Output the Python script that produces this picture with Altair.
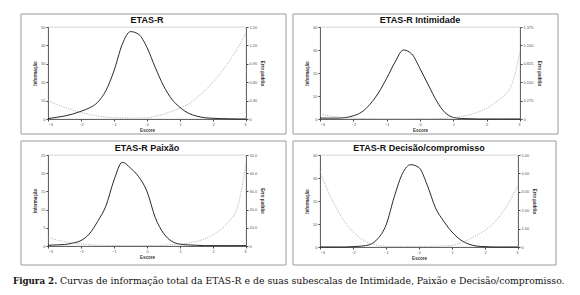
import altair as alt
import pandas as pd

theta = [-3.0, -2.75, -2.5, -2.25, -2.0, -1.75, -1.5, -1.25, -1.0, -0.75, -0.5, -0.25,
         0.0, 0.25, 0.5, 0.75, 1.0, 1.25, 1.5, 1.75, 2.0, 2.25, 2.5, 2.75, 3.0]

etas_info = [0.2, 0.9, 1.6, 2.7, 4.2, 6.0, 9.0, 15.3, 26.2, 40.6, 47.5, 46.0,
             38.8, 28.0, 18.1, 10.8, 6.3, 3.2, 1.6, 0.7, 0.4, 0.2, 0.1, 0.0, 0.0]
etas_se = [0.30, 0.24, 0.19, 0.146, 0.108, 0.076, 0.049, 0.032, 0.022, 0.016, 0.014, 0.015,
           0.019, 0.043, 0.08, 0.125, 0.18, 0.24, 0.34, 0.46, 0.60, 0.76, 0.95, 1.16, 1.41]

int_info = [0.4, 0.4, 0.4, 0.6, 1.4, 3.0, 6.4, 11.3, 17.7, 24.7, 30.0, 28.3,
            21.9, 14.8, 7.8, 2.8, 0.7, 0.2, 0.1, 0.0, 0.0, 0.0, 0.0, 0.0, 0.0]
int_se = [0.073, 0.05, 0.03, 0.018, 0.012, 0.008, 0.005, 0.004, 0.003, 0.003, 0.003, 0.003,
          0.004, 0.005, 0.007, 0.011, 0.019, 0.039, 0.063, 0.107, 0.16, 0.243, 0.34, 0.51, 1.0]

pai_info = [0.2, 0.3, 0.4, 0.8, 1.5, 3.3, 6.7, 10.9, 18.1, 23.0, 21.4, 19.0,
            15.0, 7.8, 3.5, 1.3, 0.5, 0.3, 0.2, 0.1, 0.1, 0.1, 0.1, 0.1, 0.1]
pai_se = [4.8, 3.4, 2.3, 1.6, 1.1, 0.7, 0.5, 0.3, 0.2, 0.2, 0.2, 0.2,
          0.2, 0.3, 0.4, 0.7, 1.1, 1.6, 2.5, 3.9, 6.1, 9.3, 13.8, 21.9, 45.2]

dec_info = [0.0, 0.0, 0.0, 0.0, 0.15, 0.4, 1.0, 3.6, 9.5, 21.8, 32.0, 35.8,
            34.5, 26.9, 17.0, 11.2, 6.5, 3.2, 1.3, 0.4, 0.15, 0.0, 0.0, 0.0, 0.0]
dec_se = [4.1, 3.0, 2.1, 1.36, 0.82, 0.45, 0.22, 0.09, 0.04, 0.03, 0.03, 0.03,
          0.03, 0.03, 0.04, 0.06, 0.09, 0.22, 0.4, 0.64, 0.9, 1.27, 1.8, 2.5, 3.36]

titles = ["ETAS-R", "ETAS-R Intimidade", "ETAS-R Paixão", "ETAS-R Decisão/compromisso"]
info_ticks = [[0, 10, 20, 30, 40, 50], [0, 10, 20, 30, 40], [0, 5, 10, 15, 20, 25], [0, 10, 20, 30, 40]]
se_ticks = [[0, 0.3, 0.6, 0.9, 1.2, 1.5], [0, 0.275, 0.55, 0.825, 1.1, 1.375],
            [0, 10, 20, 30, 40, 50], [0, 1, 2, 3, 4, 5]]
se_fmt = [".2f", ".3f", ".1f", ".2f"]
x_ticks = [-3, -2, -1, 0, 1, 2, 3]
caption_bold = "Figura 2."
caption_text = ("Curvas de informação total da ETAS-R e de suas subescalas de "
                "Intimidade, Paixão e Decisão/compromisso.")

infos = [etas_info, int_info, pai_info, dec_info]
ses = [etas_se, int_se, pai_se, dec_se]

sizes = [(198, 92), (200, 92), (198, 91), (198, 92)]
# frame offsets relative to the plot area: left, right (beyond width), top, bottom (beyond height)
frames = [(-27, 40, -13, 15), (-27, 38, -13, 15), (-27, 40, -14, 19), (-27, 38, -14, 18)]

AX = dict(labelFontSize=4, labelColor="#555", titleFontSize=4.5, titleColor="#333",
          tickSize=2, tickColor="#444", domainColor="#444", domainWidth=0.8,
          labelPadding=1, grid=False, labelFont="Liberation Sans", titleFont="Liberation Sans")


def panel(i):
    w, h = sizes[i]
    fx1, fx2, fy1, fy2 = frames[i]
    df = pd.DataFrame({"theta": theta, "info": infos[i], "se": ses[i]})
    x = alt.X("theta:Q", scale=alt.Scale(domain=[-3, 3], nice=False),
              axis=alt.Axis(values=x_ticks, title="Escore", titlePadding=1, **AX))
    info = alt.Chart(df).mark_line(color="#111", strokeWidth=0.9, interpolate="monotone").encode(
        x=x,
        y=alt.Y("info:Q", scale=alt.Scale(domain=[0, info_ticks[i][-1]], nice=False),
                axis=alt.Axis(values=info_ticks[i], title="Informação", orient="left",
                              titlePadding=3, **AX)))
    se = alt.Chart(df).mark_line(color="#999", strokeWidth=0.7, strokeDash=[1.2, 1.2],
                                 interpolate="monotone").encode(
        x=x,
        y=alt.Y("se:Q", scale=alt.Scale(domain=[0, se_ticks[i][-1]], nice=False),
                axis=alt.Axis(values=se_ticks[i], title="Erro padrão", orient="right",
                              titlePadding=3,
                              labelExpr=f"datum.value == 0 ? '0' : format(datum.value, '{se_fmt[i]}')",
                              **AX)))
    fdf = pd.DataFrame({"t": [titles[i]]})
    frame = alt.Chart(fdf).mark_rect(fillOpacity=0, stroke="#9a9a9a", strokeWidth=1).encode(
        x=alt.value(fx1), x2=alt.value(w + fx2), y=alt.value(fy1), y2=alt.value(h + fy2))
    title = alt.Chart(fdf).mark_text(font="Liberation Sans", fontSize=9, fontWeight="bold",
                                     color="#111", baseline="middle").encode(
        text="t:N", x=alt.value(w / 2), y=alt.value(-7))
    return alt.layer(frame, title, info, se).resolve_scale(y="independent").properties(
        width=w, height=h)


row1 = alt.hconcat(panel(0), panel(1), spacing=5)
row2 = alt.hconcat(panel(2), panel(3), spacing=5)

cdf = pd.DataFrame({"b": [caption_bold], "t": [caption_text]})
cap_b = alt.Chart(cdf).mark_text(align="left", baseline="middle", font="DejaVu Serif",
                                 fontSize=8.7, fontWeight="bold", color="#111").encode(
    text="b:N", x=alt.value(-35), y=alt.value(6))
cap_t = alt.Chart(cdf).mark_text(align="left", baseline="middle", font="DejaVu Serif",
                                 fontSize=9.3, color="#111").encode(
    text="t:N", x=alt.value(12), y=alt.value(6))
caption = alt.layer(cap_b, cap_t).properties(
    width=470, height=8, view=alt.ViewBackground(stroke="transparent"))

chart = alt.vconcat(alt.vconcat(row1, row2, spacing=5), caption, spacing=8).properties(
    padding={"left": 4, "top": 5, "right": 4, "bottom": 0}
).configure_view(stroke="#bbb", strokeWidth=0.6).configure_concat(spacing=5)

chart.save("out.html", embed_options={"renderer": "svg", "actions": False})
